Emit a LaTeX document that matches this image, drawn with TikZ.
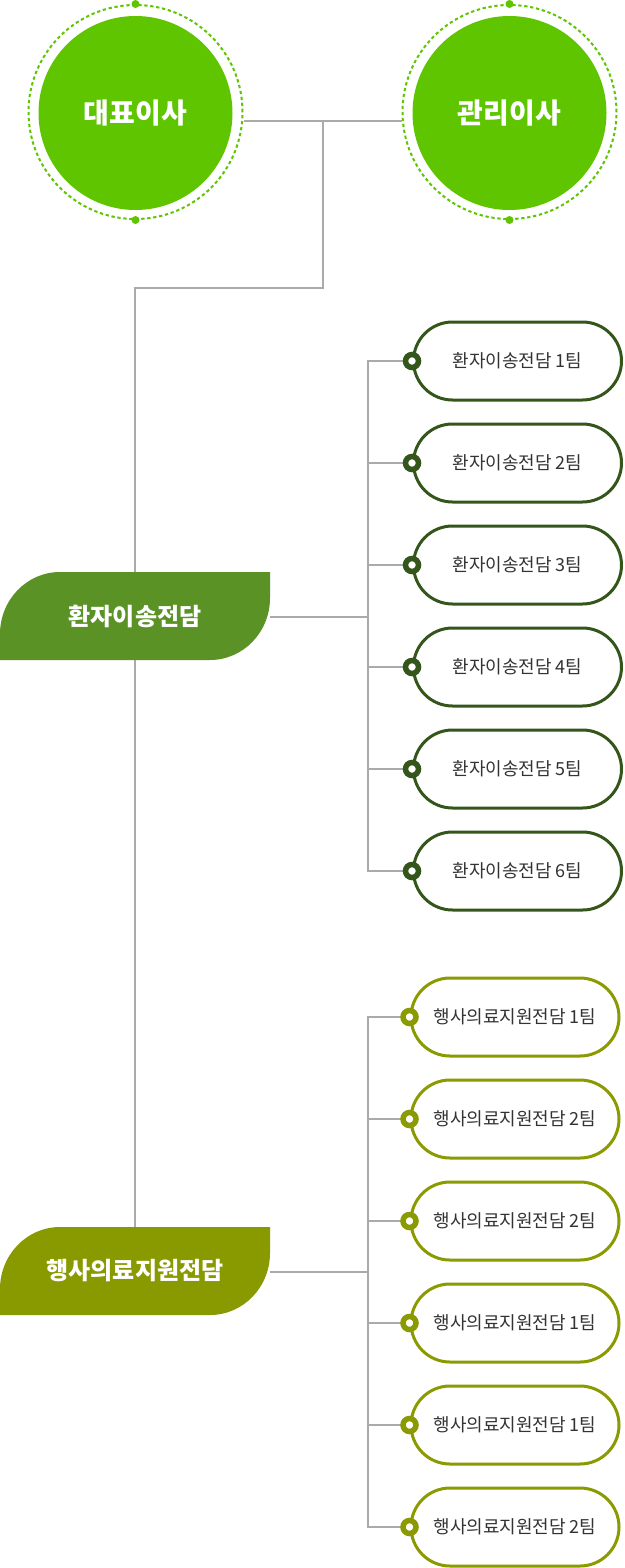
\documentclass[tikz,border=0pt]{standalone}
\usepackage{fontspec}
\setmainfont{Noto Sans CJK KR}
\usetikzlibrary{calc}
\definecolor{cgreen}{HTML}{5FC500}
\definecolor{dgreen}{HTML}{5A9226}
\definecolor{dolive}{HTML}{899A00}
\definecolor{pgreen}{HTML}{34561A}
\definecolor{polive}{HTML}{8A9A00}
\definecolor{lgray}{HTML}{AAAAAA}
\definecolor{tgray}{HTML}{333333}
\tikzset{
  conn/.style={draw=lgray, line width=2pt},
  bigcirc/.style={circle, fill=cgreen, minimum size=194pt, inner sep=0pt, text=white, font=\bfseries\fontsize{28}{32}\selectfont},
  dashring/.style={circle, draw=cgreen, dash pattern=on 3.3pt off 2.7pt, line width=2pt, minimum size=214pt, inner sep=0pt},
  topdot/.style={circle, fill=cgreen, minimum size=8pt, inner sep=0pt},
  depttext/.style={minimum width=270pt, minimum height=88pt, inner sep=0pt, text=white, font=\bfseries\fontsize{24}{28}\selectfont},
  pill/.style={draw=#1, line width=3pt, fill=white, rounded corners=39pt, minimum width=208pt, minimum height=78pt, inner sep=0pt, text=tgray, font=\fontsize{18}{22}\selectfont},
  ring/.style={circle, draw=#1, fill=white, line width=5.5pt, minimum size=13pt, inner sep=0pt},
}
\newcommand{\leafshape}[2]{%
  \fill[#2] (0,#1+62) -- (0,#1+88) -- (210,#1+88) arc[start angle=90, end angle=0, x radius=60, y radius=62] -- (270,#1) -- (60,#1) arc[start angle=270, end angle=180, x radius=60, y radius=62] -- cycle;}
\begin{document}
\begin{tikzpicture}[x=1pt,y=-1pt]
\useasboundingbox (0,0) rectangle (624,1568);
% top circles
\node[dashring] (ceoR) at (135.5,112) {};
\node[dashring] (dirR) at (509.5,112) {};
% connectors
\coordinate (j) at (323,121);
\coordinate (elb) at (323,288);
\draw[conn] (ceoR.east |- j) -- (dirR.west |- j);
\draw[conn] (j) -- (elb) -| (135,1230);
% departments
\leafshape{572}{dgreen}
\leafshape{1227}{dolive}
\node[depttext] (d1) at (135,616) {환자이송전담};
\node[depttext] (d2) at (135,1271) {행사의료지원전담};
\coordinate (bus1) at (368,617);
\coordinate (bus2) at (368,1272);
\draw[conn] (d1.east |- bus1) -- (bus1);
\draw[conn] (d2.east |- bus2) -- (bus2);
% teams group 1
\foreach \i/\n in {1/1,2/2,3/3,4/4,5/5,6/6}{
  \node[pill=pgreen, anchor=west] (p\i) at (412,{361+102*(\i-1)}) {환자이송전담 {\n}팀};
  \draw[conn] (p\i.west) -| (bus1);
  \node[ring=pgreen] (r\i) at (p\i.west) {};
}
% teams group 2
\foreach \i/\n in {7/1,8/2,9/2,10/1,11/1,12/2}{
  \node[pill=polive, anchor=west] (p\i) at (409.5,{1017+102*(\i-7)}) {행사의료지원전담 {\n}팀};
  \draw[conn] (p\i.west) -| (bus2);
  \node[ring=polive] (r\i) at (p\i.west) {};
}
% circles on top
\node[bigcirc] (ceo) at (135.5,113) {대표이사};
\node[bigcirc] (dir) at (509.5,113) {관리이사};
\node[topdot] (ceoT) at (ceoR.north) {};
\node[topdot] (ceoB) at (ceoR.south) {};
\node[topdot] (dirT) at (dirR.north) {};
\node[topdot] (dirB) at (dirR.south) {};
\end{tikzpicture}
\end{document}
